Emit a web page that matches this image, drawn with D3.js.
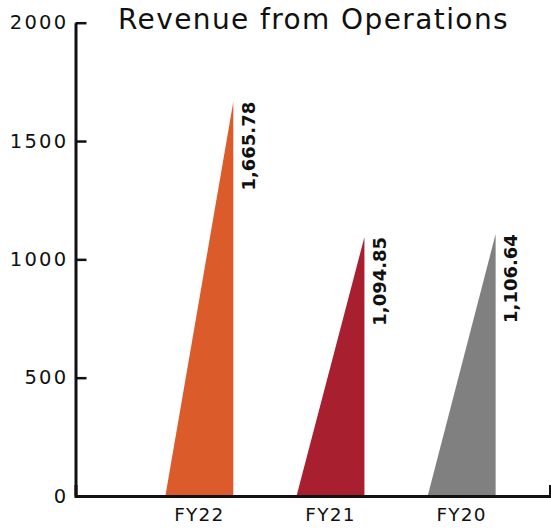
<!DOCTYPE html>
<html>
<head>
<meta charset="utf-8">
<script src="https://cdn.jsdelivr.net/npm/d3@7"></script>
<style>
  html, body { margin: 0; padding: 0; background: #fff; }
  svg { display: block; }
</style>
</head>
<body>
<svg id="chart" width="551" height="531"></svg>
<script>
const categories = ["FY22", "FY21", "FY20"];
const values = [1665.78, 1094.85, 1106.64];
const valueLabels = ["1,665.78", "1,094.85", "1,106.64"];
const barColors = ["#DB5B2B", "#A81F30", "#808080"];
const yTickValues = [0, 500, 1000, 1500, 2000];
const titleText = "Revenue from Operations";

const FONT = "'DejaVu Sans', sans-serif";
const svg = d3.select("#chart");

const y = d3.scaleLinear().domain([0, 2000]).range([496, 22.7]);
const x = d3.scaleBand().domain(categories).range([75.5, 550])
  .paddingInner(0.482).paddingOuter(0.55).align(0.623);

// Title
svg.append("text")
  .attr("x", 118).attr("y", 28.5)
  .attr("font-family", FONT).attr("font-size", 28).attr("letter-spacing", 1.4)
  .attr("fill", "#111")
  .text(titleText);

// Triangular bars
svg.append("g").selectAll("path")
  .data(categories)
  .join("path")
  .attr("d", (c, i) => {
    const x0 = x(c), x1 = x(c) + x.bandwidth();
    return `M${x0},${y(0)}L${x1},${y(0)}L${x1},${y(values[i])}Z`;
  })
  .attr("fill", (c, i) => barColors[i]);

// Value labels
svg.append("g").selectAll("text")
  .data(categories)
  .join("text")
  .attr("transform", (c, i) => `translate(${x(c) + x.bandwidth() + 21.5},${y(values[i])}) rotate(-90)`)
  .attr("text-anchor", "end")
  .attr("font-family", FONT).attr("font-weight", "bold").attr("font-size", 18)
  .attr("fill", "#111")
  .text((c, i) => valueLabels[i]);

// Y axis
const yAxis = svg.append("g")
  .attr("transform", "translate(75.5,0)")
  .call(d3.axisLeft(y).tickValues(yTickValues).tickFormat(d3.format("d"))
    .tickSizeInner(-11).tickSizeOuter(0).tickPadding(7));
yAxis.select(".domain").attr("stroke", "#111").attr("stroke-width", 3);
yAxis.selectAll(".tick line").attr("stroke", "#111").attr("stroke-width", 2.5);
yAxis.selectAll(".tick text")
  .attr("font-family", FONT).attr("font-size", 19.5).attr("letter-spacing", 2.3)
  .attr("fill", "#111");

// X axis
const xAxis = svg.append("g")
  .attr("transform", `translate(0,${y(0)})`)
  .call(d3.axisBottom(x).tickSizeInner(0).tickSizeOuter(-11).tickPadding(12));
xAxis.select(".domain").attr("stroke", "#111").attr("stroke-width", 3);
xAxis.selectAll(".tick text")
  .attr("font-family", FONT).attr("font-size", 18.5).attr("letter-spacing", 1.2)
  .attr("fill", "#111");
</script>
</body>
</html>
